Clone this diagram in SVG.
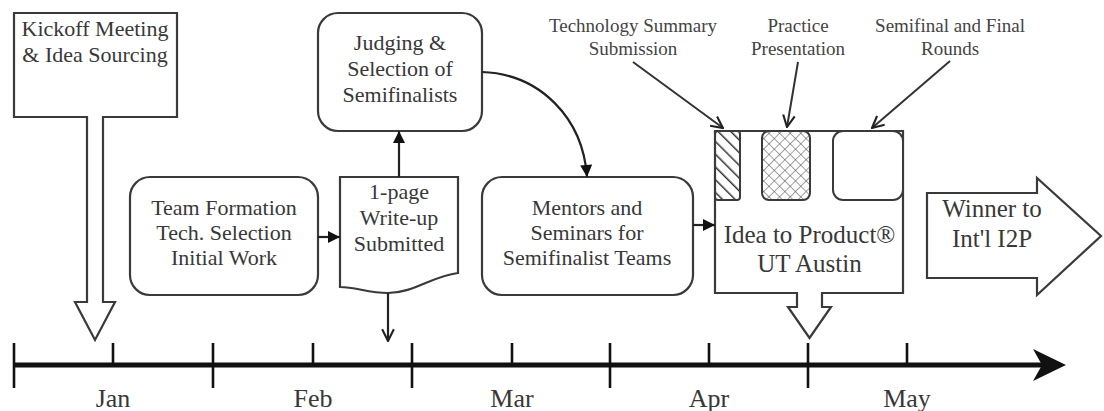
<svg xmlns="http://www.w3.org/2000/svg" width="1104" height="411" viewBox="0 0 1104 411">
<style>
  .shape{fill:#fff;stroke:#3a3a3a;stroke-width:2.2}
  .t{font-family:"Liberation Serif","Times New Roman",serif;fill:#383838;text-anchor:middle}
  .b{font-size:22px}
  .big{font-size:25px}
  .sm{font-size:19px;fill:#444}
  .mo{font-size:26px}
  .flow{fill:none;stroke:#222;stroke-width:2.2}
  .call{fill:none;stroke:#333;stroke-width:2}
  .tick{stroke:#111;stroke-width:2.6}
</style>
<defs>
  <marker id="fa" viewBox="0 0 10 10" refX="10" refY="5" markerWidth="13" markerHeight="12" markerUnits="userSpaceOnUse" orient="auto">
    <path d="M0,0 L10,5 L0,10 z" fill="#111"/>
  </marker>
  <marker id="va" viewBox="0 0 12 12" refX="11" refY="6" markerWidth="14" markerHeight="14" markerUnits="userSpaceOnUse" orient="auto">
    <path d="M1,1 L11,6 L1,11" fill="none" stroke="#222" stroke-width="1.8"/>
  </marker>
  <pattern id="diag" patternUnits="userSpaceOnUse" width="9" height="9" patternTransform="rotate(-45)">
    <line x1="0" y1="0" x2="0" y2="9" stroke="#333" stroke-width="3"/>
  </pattern>
  <pattern id="xh" patternUnits="userSpaceOnUse" width="7.5" height="7.5" patternTransform="rotate(45)">
    <line x1="0" y1="0" x2="0" y2="7.5" stroke="#444" stroke-width="1"/>
    <line x1="0" y1="0" x2="7.5" y2="0" stroke="#444" stroke-width="1"/>
  </pattern>
</defs>
<rect width="1104" height="411" fill="#fff"/>

<g id="timeline">
  <line x1="14" y1="365" x2="1046" y2="365" stroke="#111" stroke-width="5"/>
  <polygon points="1066,365 1033,349 1042,365 1033,381" fill="#111"/>
  <g class="tick">
    <line x1="14" y1="343" x2="14" y2="388"/>
    <line x1="213" y1="343" x2="213" y2="388"/>
    <line x1="412" y1="343" x2="412" y2="388"/>
    <line x1="610" y1="343" x2="610" y2="388"/>
    <line x1="808" y1="343" x2="808" y2="388"/>
    <line x1="113" y1="343" x2="113" y2="365"/>
    <line x1="313" y1="343" x2="313" y2="365"/>
    <line x1="512" y1="343" x2="512" y2="365"/>
    <line x1="709" y1="343" x2="709" y2="365"/>
    <line x1="907" y1="343" x2="907" y2="365"/>
  </g>
  <text class="t mo" x="113" y="407">Jan</text>
  <text class="t mo" x="313" y="407">Feb</text>
  <text class="t mo" x="512" y="407">Mar</text>
  <text class="t mo" x="709" y="407">Apr</text>
  <text class="t mo" x="907" y="407">May</text>
</g>

<g id="kickoff">
  <polygon class="shape" points="14,13 177,13 177,117 103,117 103,302 115,302 95,340 75,302 87,302 87,117 14,117"/>
  <text class="t b" x="95" y="36">Kickoff Meeting</text>
  <text class="t b" x="95" y="62">&amp; Idea Sourcing</text>
</g>

<g id="team">
  <rect class="shape" x="130" y="177" width="188" height="118" rx="20"/>
  <text class="t b" x="224" y="215">Team Formation</text>
  <text class="t b" x="224" y="240">Tech. Selection</text>
  <text class="t b" x="224" y="265">Initial Work</text>
</g>

<g id="writeup">
  <path class="shape" d="M340,177 H458 V273 C432,276 414,293 388,293 C368,293 356,287 340,287 Z"/>
  <text class="t b" x="399" y="199">1-page</text>
  <text class="t b" x="399" y="225">Write-up</text>
  <text class="t b" x="399" y="251">Submitted</text>
</g>

<g id="judging">
  <rect class="shape" x="318" y="13" width="164" height="118" rx="20"/>
  <text class="t b" x="400" y="50">Judging &amp;</text>
  <text class="t b" x="400" y="76">Selection of</text>
  <text class="t b" x="400" y="102">Semifinalists</text>
</g>

<g id="mentors">
  <rect class="shape" x="482" y="177" width="211" height="118" rx="20"/>
  <text class="t b" x="587" y="215">Mentors and</text>
  <text class="t b" x="587" y="240">Seminars for</text>
  <text class="t b" x="587" y="265">Semifinalist Teams</text>
</g>

<g id="i2p">
  <polygon class="shape" points="715,131 903,131 903,293 822,293 822,307 831,307 809.5,338 788,307 797,307 797,293 715,293"/>
  <rect x="715" y="131" width="25" height="69" rx="3" fill="url(#diag)" stroke="#3a3a3a" stroke-width="2"/>
  <rect x="762" y="131" width="48" height="69" rx="7" fill="url(#xh)" stroke="#3a3a3a" stroke-width="2"/>
  <rect x="833" y="131" width="70" height="69" rx="10" fill="#fff" stroke="#3a3a3a" stroke-width="2"/>
  <text class="t big" x="809.5" y="243">Idea to Product®</text>
  <text class="t big" x="809.5" y="272">UT Austin</text>
</g>

<g id="winner">
  <polygon class="shape" points="927,193 1037,193 1037,178 1101,236 1037,295 1037,278 927,278"/>
  <text class="t big" x="992" y="217">Winner to</text>
  <text class="t big" x="992" y="247">Int'l I2P</text>
</g>

<g id="labels">
  <text class="t sm" x="633" y="32">Technology Summary</text>
  <text class="t sm" x="633" y="55">Submission</text>
  <text class="t sm" x="798" y="32">Practice</text>
  <text class="t sm" x="798" y="55">Presentation</text>
  <text class="t sm" x="950" y="32">Semifinal and Final</text>
  <text class="t sm" x="950" y="55">Rounds</text>
</g>

<g id="connectors">
  <line class="flow" x1="318" y1="237" x2="340" y2="237" marker-end="url(#fa)"/>
  <line class="flow" x1="399" y1="177" x2="399" y2="131" marker-end="url(#fa)"/>
  <path class="flow" d="M482,72 C540,74 583,118 587,177" marker-end="url(#fa)"/>
  <line class="flow" x1="693" y1="225" x2="715" y2="225" marker-end="url(#fa)"/>
  <line class="flow" x1="388" y1="293" x2="388" y2="341" marker-end="url(#va)"/>
  <line class="call" x1="633" y1="62" x2="723" y2="128" marker-end="url(#va)"/>
  <line class="call" x1="798" y1="62" x2="787" y2="127" marker-end="url(#va)"/>
  <line class="call" x1="950" y1="61" x2="872" y2="128" marker-end="url(#va)"/>
</g>
</svg>
